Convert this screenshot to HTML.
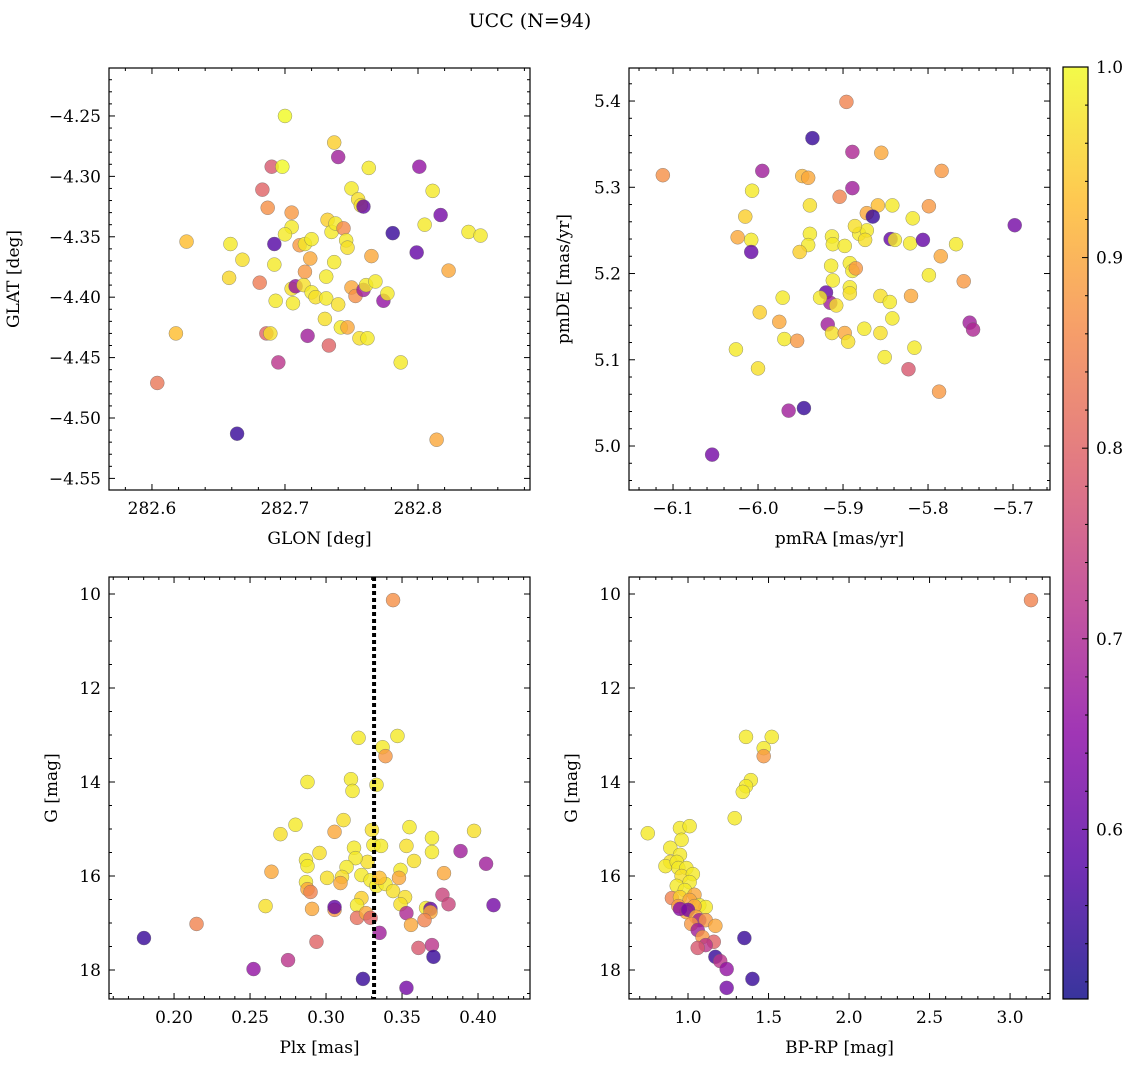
<!DOCTYPE html>
<html><head><meta charset="utf-8"><style>
body{margin:0;background:#fff}
svg{display:block;font-family:"DejaVu Serif","Liberation Serif",serif}
</style></head><body>
<svg id="c" width="1136" height="1067" xmlns="http://www.w3.org/2000/svg">
<text x="530" y="27" font-size="19" text-anchor="middle">UCC (N=94)</text>
</svg>
<script>
// ---- Panel 1: GLON / GLAT ----
const glon=[282.700,282.737,282.690,282.698,282.740,282.763,282.801,282.626,282.659,282.668,282.658,282.683,282.687,282.692,282.692,282.693,282.681,282.686,282.689,282.695,282.618,282.604,282.664,282.705,282.705,282.700,282.711,282.715,282.720,282.705,282.706,282.708,282.715,282.719,282.714,282.720,282.723,282.717,282.731,282.731,282.730,282.733,282.732,282.735,282.738,282.744,282.737,282.740,282.742,282.747,282.746,282.747,282.750,282.755,282.757,282.759,282.750,282.753,282.759,282.761,282.756,282.762,282.765,282.768,282.774,282.777,282.781,282.787,282.799,282.805,282.811,282.817,282.823,282.814,282.838,282.847];
const glat=[-4.250,-4.272,-4.292,-4.292,-4.284,-4.293,-4.292,-4.354,-4.356,-4.369,-4.384,-4.311,-4.326,-4.356,-4.373,-4.403,-4.388,-4.430,-4.430,-4.454,-4.430,-4.471,-4.513,-4.342,-4.330,-4.348,-4.357,-4.356,-4.352,-4.393,-4.405,-4.391,-4.379,-4.368,-4.390,-4.396,-4.400,-4.432,-4.383,-4.401,-4.418,-4.440,-4.336,-4.346,-4.339,-4.343,-4.371,-4.406,-4.425,-4.425,-4.353,-4.359,-4.310,-4.319,-4.324,-4.325,-4.392,-4.399,-4.394,-4.390,-4.434,-4.434,-4.366,-4.387,-4.403,-4.397,-4.347,-4.454,-4.363,-4.340,-4.312,-4.332,-4.378,-4.518,-4.346,-4.349];
const prob1=[1.0,0.95,0.78,1.0,0.68,0.98,0.66,0.93,0.98,0.97,0.96,0.8,0.87,0.58,0.98,0.98,0.84,0.8,0.97,0.72,0.93,0.83,0.55,0.98,0.88,0.98,0.88,0.98,0.98,0.97,0.98,0.66,0.88,0.9,0.97,0.98,0.97,0.68,0.98,0.98,0.97,0.8,0.95,0.98,0.98,0.86,0.98,0.97,0.98,0.9,0.98,0.97,0.98,0.97,0.97,0.6,0.9,0.87,0.68,0.98,0.97,0.98,0.9,0.98,0.66,0.98,0.55,0.98,0.6,0.98,0.98,0.62,0.9,0.9,0.98,0.98];
// ---- Panel 2: pmRA / pmDE ----
const pmra=[-6.112,-5.936,-5.896,-5.995,-6.007,-5.889,-5.889,-5.904,-5.855,-5.948,-5.941,-5.784,-5.939,-5.842,-5.859,-5.872,-5.865,-5.818,-5.799,-6.015,-6.024,-6.008,-6.008,-5.939,-5.941,-5.951,-5.913,-5.912,-5.898,-5.881,-5.872,-5.886,-5.874,-5.844,-5.839,-5.821,-5.767,-5.806,-5.785,-5.914,-5.892,-5.889,-5.885,-5.912,-5.799,-5.758,-5.892,-5.892,-5.920,-5.915,-5.927,-5.908,-5.971,-5.856,-5.845,-5.820,-5.842,-5.998,-5.975,-5.918,-5.913,-5.898,-5.856,-5.875,-5.969,-5.954,-5.894,-5.851,-5.816,-5.823,-5.751,-5.747,-6.026,-6.000,-5.787,-5.964,-5.946,-6.054,-5.698];
const pmde=[5.314,5.357,5.399,5.319,5.296,5.341,5.299,5.289,5.340,5.313,5.311,5.319,5.279,5.279,5.279,5.270,5.266,5.264,5.278,5.266,5.242,5.239,5.225,5.246,5.233,5.225,5.243,5.234,5.232,5.246,5.250,5.255,5.239,5.240,5.239,5.235,5.234,5.239,5.220,5.209,5.212,5.203,5.206,5.192,5.198,5.191,5.184,5.177,5.178,5.166,5.172,5.163,5.172,5.174,5.167,5.174,5.148,5.155,5.144,5.141,5.131,5.131,5.131,5.136,5.124,5.122,5.121,5.103,5.114,5.089,5.143,5.135,5.112,5.090,5.063,5.041,5.044,4.990,5.256];
const prob2=[0.87,0.55,0.85,0.68,0.98,0.7,0.68,0.85,0.9,0.92,0.9,0.88,0.97,0.98,0.93,0.9,0.55,0.98,0.88,0.95,0.9,0.98,0.6,0.98,0.98,0.95,0.98,0.98,0.98,0.98,0.98,0.97,0.97,0.6,0.98,0.98,0.98,0.6,0.9,0.98,0.98,0.98,0.88,0.98,0.98,0.88,0.98,0.97,0.6,0.68,0.98,0.97,0.98,0.97,0.98,0.9,0.98,0.95,0.9,0.68,0.97,0.9,0.97,0.98,0.98,0.88,0.97,0.98,0.98,0.78,0.68,0.7,0.98,0.97,0.88,0.68,0.55,0.62,0.62];
// ---- Panel 3: Plx / G ----
const plx=[0.3441,0.3214,0.3470,0.3372,0.3391,0.2878,0.3164,0.3332,0.3174,0.3115,0.2799,0.3056,0.3302,0.3549,0.3974,0.3697,0.2700,0.3184,0.3312,0.2957,0.3362,0.3529,0.3697,0.3273,0.3194,0.2868,0.2878,0.3135,0.3885,0.4053,0.3579,0.3490,0.3776,0.2641,0.3007,0.3105,0.3233,0.3293,0.3332,0.3391,0.3480,0.2868,0.2878,0.2898,0.3095,0.3352,0.3441,0.3520,0.3490,0.3766,0.3806,0.3658,0.4102,0.3233,0.3204,0.3056,0.3056,0.2908,0.2602,0.3204,0.3263,0.3293,0.3529,0.3687,0.3687,0.3559,0.3648,0.3352,0.2148,0.2937,0.3697,0.3608,0.3707,0.1802,0.2750,0.2523,0.3243,0.3529];
const g3=[10.13,13.06,13.02,13.26,13.45,14.0,13.94,14.06,14.19,14.81,14.91,15.06,15.02,14.96,15.04,15.19,15.11,15.40,15.34,15.51,15.36,15.36,15.49,15.70,15.62,15.66,15.79,15.81,15.47,15.74,15.68,15.87,15.94,15.91,16.04,16.02,15.98,16.09,16.21,16.17,16.04,16.13,16.28,16.34,16.15,16.04,16.32,16.45,16.60,16.40,16.60,16.68,16.62,16.47,16.62,16.72,16.66,16.70,16.64,16.89,16.79,16.89,16.79,16.70,16.77,17.04,16.94,17.21,17.02,17.40,17.47,17.53,17.72,17.32,17.79,17.98,18.19,18.38];
const prob3=[0.87,0.98,0.98,0.98,0.88,0.98,0.98,0.98,0.98,0.97,0.98,0.9,0.97,0.98,0.97,0.98,0.97,0.98,0.98,0.97,0.98,0.97,0.98,0.97,0.98,0.98,0.98,0.98,0.68,0.68,0.97,0.98,0.9,0.9,0.97,0.97,0.98,0.98,0.98,0.98,0.9,0.98,0.9,0.85,0.9,0.93,0.97,0.97,0.97,0.75,0.75,0.98,0.62,0.95,0.98,0.88,0.6,0.9,0.97,0.82,0.9,0.8,0.7,0.6,0.9,0.9,0.85,0.68,0.85,0.8,0.72,0.78,0.55,0.55,0.72,0.66,0.55,0.62];
const plxRef=0.3316;
// ---- Panel 4: BP-RP / G ----
const bprp=[3.13,1.36,1.52,1.47,1.47,1.39,1.36,1.34,1.29,0.75,0.95,1.01,0.96,0.89,0.95,0.89,0.86,0.93,0.94,0.99,0.96,1.03,1.01,0.93,0.98,1.04,0.90,0.95,1.01,1.07,1.11,1.04,0.94,0.99,0.95,1.0,1.05,1.07,1.11,1.02,1.06,1.09,1.17,1.16,1.11,1.06,1.35,1.17,1.20,1.24,1.40,1.24];
const g4=[10.13,13.04,13.04,13.28,13.45,13.96,14.09,14.21,14.77,15.09,14.98,14.94,15.23,15.40,15.55,15.70,15.79,15.70,15.83,15.83,16.0,15.96,16.13,16.21,16.30,16.40,16.47,16.45,16.51,16.62,16.66,16.64,16.64,16.77,16.70,16.72,16.87,16.94,16.94,17.02,17.15,17.30,17.06,17.40,17.47,17.53,17.32,17.72,17.81,17.98,18.19,18.38];
const prob4=[0.85,0.98,0.98,0.98,0.88,0.98,0.98,0.98,0.98,0.98,0.98,0.98,0.98,0.98,0.98,0.97,0.98,0.98,0.98,0.98,0.97,0.98,0.98,0.98,0.98,0.9,0.85,0.95,0.9,0.98,0.98,0.9,0.88,0.9,0.65,0.62,0.9,0.68,0.88,0.88,0.68,0.88,0.9,0.8,0.72,0.78,0.55,0.55,0.72,0.66,0.55,0.62];
const cbMin=0.511, cbMax=1.0;

const NS="http://www.w3.org/2000/svg";
const svg=document.getElementById('c');
function mk(t,a,p){const e=document.createElementNS(NS,t);for(const k in a)e.setAttribute(k,a[k]);(p||svg).appendChild(e);return e;}
const stops=[[13,8,135],[84,2,163],[139,10,165],[185,50,137],[219,92,104],[244,136,73],[254,188,43],[240,249,33]];
function plasma(t){t=Math.max(0,Math.min(1,t));const s=t*(stops.length-1),i=Math.min(stops.length-2,Math.floor(s)),f=s-i;const a=stops[i],b=stops[i+1];return `rgb(${a.map((v,k)=>Math.round(v+(b[k]-v)*f)).join(',')})`;}
function col(p){return plasma((p-cbMin)/(cbMax-cbMin));}
function fmt(v,d){return v.toFixed(d).replace('-','\u2212');}

function panel(o){
  const g=mk('g',{});
  
  
  const X=v=>o.L+(v-o.x0)/(o.x1-o.x0)*(o.R-o.L);
  const Y=v=>o.B-(v-o.y0)/(o.y1-o.y0)*(o.B-o.T);
  const tg=mk('g',{stroke:'#000','stroke-width':1},g);
  for(let k=Math.ceil(o.x0/o.xm-1e-6);k*o.xm<=o.x1+1e-9;k++){const v=k*o.xm,x=X(v);const maj=Math.abs(v/o.xM-Math.round(v/o.xM))<1e-6;const l=maj?6:3;
    mk('line',{x1:x,x2:x,y1:o.B,y2:o.B-l},tg);mk('line',{x1:x,x2:x,y1:o.T,y2:o.T+l},tg);
    if(maj){const t=mk('text',{x:x,y:o.B+24,'font-size':17,'text-anchor':'middle',stroke:'none'},g);t.textContent=fmt(v,o.xd);}}
  for(let k=Math.ceil(Math.min(o.y0,o.y1)/o.ym-1e-6);k*o.ym<=Math.max(o.y0,o.y1)+1e-9;k++){const v=k*o.ym,y=Y(v);const maj=Math.abs(v/o.yM-Math.round(v/o.yM))<1e-6;const l=maj?6:3;
    mk('line',{x1:o.L,x2:o.L+l,y1:y,y2:y},tg);mk('line',{x1:o.R,x2:o.R-l,y1:y,y2:y},tg);
    if(maj){const t=mk('text',{x:o.L-8,y:y+6,'font-size':17,'text-anchor':'end'},g);t.textContent=fmt(v,o.yd);}}
  const pg=mk('g',{},g);
  o.xs.forEach((v,i)=>{const c=mk('circle',{cx:X(v),cy:Y(o.ys[i]),r:7,fill:col(o.cs[i]),'fill-opacity':0.8,stroke:'#666','stroke-width':0.5,'stroke-opacity':0.7},pg);
    
    });
  if(o.vline!==undefined){const l=mk('line',{x1:X(o.vline),x2:X(o.vline),y1:o.T,y2:o.B,stroke:'#000','stroke-width':4,'stroke-dasharray':'4,3'},g);
    }
  const fr=mk('rect',{x:o.L,y:o.T,width:o.R-o.L,height:o.B-o.T,fill:'none',stroke:'#000','stroke-width':1.2},g);
  
  const xt=mk('text',{x:(o.L+o.R)/2,y:o.B+54,'font-size':17,'text-anchor':'middle'},g);xt.textContent=o.xl;
  
  const yt=mk('text',{x:0,y:0,'font-size':17,'text-anchor':'middle',transform:`translate(${o.L-o.yoff},${(o.T+o.B)/2}) rotate(-90)`},g);yt.textContent=o.yl;
  
}
panel({name:'glon-glat-panel',L:109,R:530,T:68,B:490,x0:282.5677,x1:282.8842,y0:-4.5596,y1:-4.2103,xM:0.1,xm:0.02,yM:0.05,ym:0.01,xd:1,yd:2,xs:glon,ys:glat,cs:prob1,xl:'GLON [deg]',yl:'GLAT [deg]',yoff:90});
panel({name:'proper-motion-panel',L:629,R:1050,T:68,B:490,x0:-6.1518,x1:-5.6565,y0:4.949,y1:5.4383,xM:0.1,xm:0.02,yM:0.1,ym:0.02,xd:1,yd:1,xs:pmra,ys:pmde,cs:prob2,xl:'pmRA [mas/yr]',yl:'pmDE [mas/yr]',yoff:60});
panel({name:'plx-g-panel',L:109,R:530,T:577,B:999,x0:0.1572,x1:0.4342,y0:18.617,y1:9.638,xM:0.05,xm:0.01,yM:2,ym:0.5,xd:2,yd:0,xs:plx,ys:g3,cs:prob3,xl:'Plx [mas]',yl:'G [mag]',yoff:52,vline:plxRef});
panel({name:'cmd-panel',L:629,R:1050,T:577,B:999,x0:0.6335,x1:3.248,y0:18.617,y1:9.638,xM:0.5,xm:0.1,yM:2,ym:0.5,xd:1,yd:0,xs:bprp,ys:g4,cs:prob4,xl:'BP-RP [mag]',yl:'G [mag]',yoff:52});
const cb=mk('g',{});
const defs=mk('defs',{},cb);const gr=mk('linearGradient',{id:'pl',x1:0,y1:1,x2:0,y2:0},defs);
stops.forEach((s,i)=>mk('stop',{offset:i/(stops.length-1),'stop-color':`rgb(${s.join(',')})`},gr));
const cT=67,cB=999,cL=1063,cR=1088;
mk('rect',{x:cL,y:cT,width:cR-cL,height:cB-cT,fill:'url(#pl)','fill-opacity':0.82},cb);
mk('rect',{x:cL,y:cT,width:cR-cL,height:cB-cT,fill:'none',stroke:'#000','stroke-width':1.2},cb);
const CY=v=>cB-(v-cbMin)/(cbMax-cbMin)*(cB-cT);
for(let k=26;k<=50;k++){const v=k*0.02;if(v<cbMin)continue;const y=CY(v);const maj=k%5===0;
  mk('line',{x1:cR,x2:cR-(maj?6:3),y1:y,y2:y,stroke:'#000'},cb);
  if(maj){const t=mk('text',{x:cR+8,y:y+6,'font-size':17},cb);t.textContent=v.toFixed(1);}}
</script>
</body></html>
